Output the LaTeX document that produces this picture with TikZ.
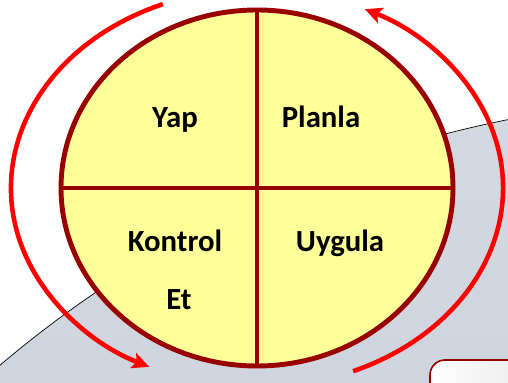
\documentclass[tikz,border=0pt]{standalone}
\usepackage{fontspec}
\setmainfont{Carlito}
\usetikzlibrary{arrows.meta}
\definecolor{darkred}{HTML}{990000}
\definecolor{paleyellow}{HTML}{FFFF99}
\definecolor{slategray}{HTML}{B2BAC8}
\definecolor{lightslate}{HTML}{D3D8E1}
\tikzset{
  label/.style={anchor=base,font=\fontsize{17.5}{21}\selectfont\bfseries},
  cycle/.style={red,line width=2.6pt,-{Stealth[length=0.34cm,width=0.32cm,inset=0.07cm]}}
}
\begin{document}
\begin{tikzpicture}
%\draw[thin,dotted] (0,0) grid (10,7);
\useasboundingbox (0,0) rectangle (10.16,7.66);
\begin{scope}
\clip (0,0) rectangle (10.16,7.66);
\shade[top color=lightslate,bottom color=slategray,draw=black,thin] (14.58,-16.86) circle (22.56);
\shade[left color=white,right color=black!8,draw=darkred,line width=0.9pt,rounded corners=0.3cm] (8.6,0.46) rectangle (10.6,-0.6);
\end{scope}
\fill[paleyellow] (5.14,3.9) ellipse (3.92 and 3.56);
\draw[darkred,line width=2.8pt] (5.14,0.34) -- (5.14,7.46);
\draw[darkred,line width=2.8pt] (1.22,3.9) -- (9.06,3.9);
\draw[darkred,line width=2.8pt] (5.14,3.9) ellipse (3.92 and 3.56);
\node[label] (yap) at (3.50,5.10) {Yap};
\node[label] (planla) at (6.42,5.10) {Planla};
\node[label] (kontrol) at (3.50,2.62) {Kontrol};
\node[label] (et) at (3.58,1.46) {Et};
\node[label] (uygula) at (6.80,2.62) {Uygula};
\draw[cycle] (5.14,3.9) ++(112.5:4.92 and 3.98) arc[start angle=112.5,end angle=244,x radius=4.92,y radius=3.98];
\draw[cycle] (5.14,3.9) ++(-67:4.92 and 3.98) arc[start angle=-67,end angle=64,x radius=4.92,y radius=3.98];
\end{tikzpicture}
\end{document}
